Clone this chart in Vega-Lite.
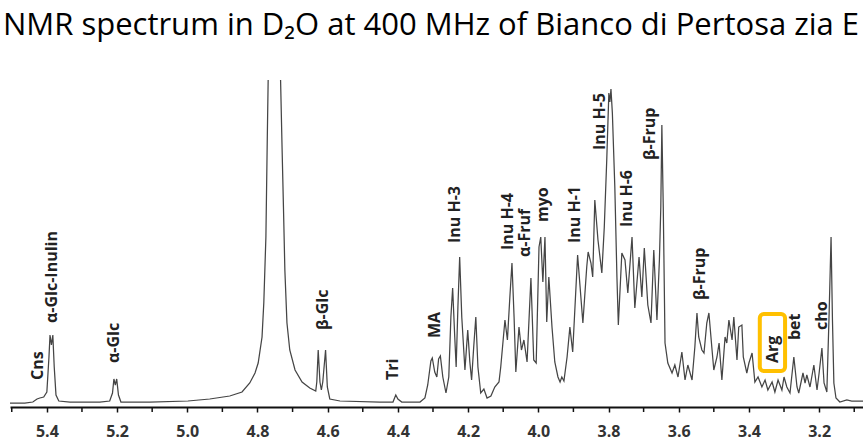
{
  "$schema": "https://vega.github.io/schema/vega-lite/v6.json",
  "width": 853,
  "height": 327,
  "autosize": {"type": "none"},
  "padding": {"left": 10, "top": 80, "right": 0, "bottom": 36},
  "background": "white",
  "title": {
    "text": "NMR spectrum in D₂O at 400 MHz of Bianco di Pertosa zia E",
    "anchor": "start",
    "font": "Open Sans",
    "fontSize": 31,
    "fontWeight": "normal",
    "color": "#000000",
    "dx": -7,
    "offset": 38
  },
  "config": {
    "view": {"stroke": null},
    "axis": {"grid": false}
  },
  "datasets": {
    "spectrum": [
      {"ppm": 5.505, "intensity": 4}, {"ppm": 5.463, "intensity": 4}, {"ppm": 5.44, "intensity": 5},
      {"ppm": 5.428, "intensity": 8}, {"ppm": 5.42, "intensity": 9}, {"ppm": 5.409, "intensity": 10},
      {"ppm": 5.4, "intensity": 15}, {"ppm": 5.394, "intensity": 50}, {"ppm": 5.391, "intensity": 72},
      {"ppm": 5.387, "intensity": 62}, {"ppm": 5.383, "intensity": 72}, {"ppm": 5.379, "intensity": 40},
      {"ppm": 5.374, "intensity": 12}, {"ppm": 5.366, "intensity": 6}, {"ppm": 5.334, "intensity": 5},
      {"ppm": 5.249, "intensity": 5}, {"ppm": 5.221, "intensity": 6}, {"ppm": 5.213, "intensity": 14},
      {"ppm": 5.209, "intensity": 28}, {"ppm": 5.205, "intensity": 22}, {"ppm": 5.201, "intensity": 28},
      {"ppm": 5.196, "intensity": 12}, {"ppm": 5.189, "intensity": 5}, {"ppm": 5.107, "intensity": 5},
      {"ppm": 4.998, "intensity": 6}, {"ppm": 4.936, "intensity": 8}, {"ppm": 4.879, "intensity": 11},
      {"ppm": 4.844, "intensity": 15}, {"ppm": 4.822, "intensity": 24}, {"ppm": 4.807, "intensity": 34},
      {"ppm": 4.798, "intensity": 44}, {"ppm": 4.787, "intensity": 70}, {"ppm": 4.782, "intensity": 104},
      {"ppm": 4.776, "intensity": 170}, {"ppm": 4.772, "intensity": 270}, {"ppm": 4.769, "intensity": 340},
      {"ppm": 4.752, "intensity": 900}, {"ppm": 4.735, "intensity": 340}, {"ppm": 4.73, "intensity": 260},
      {"ppm": 4.726, "intensity": 200}, {"ppm": 4.722, "intensity": 137}, {"ppm": 4.716, "intensity": 84},
      {"ppm": 4.708, "intensity": 57}, {"ppm": 4.693, "intensity": 37}, {"ppm": 4.673, "intensity": 25},
      {"ppm": 4.651, "intensity": 19}, {"ppm": 4.634, "intensity": 16}, {"ppm": 4.631, "intensity": 25},
      {"ppm": 4.627, "intensity": 57}, {"ppm": 4.622, "intensity": 25}, {"ppm": 4.618, "intensity": 17},
      {"ppm": 4.614, "intensity": 25}, {"ppm": 4.606, "intensity": 57}, {"ppm": 4.601, "intensity": 20},
      {"ppm": 4.594, "intensity": 8}, {"ppm": 4.565, "intensity": 6}, {"ppm": 4.451, "intensity": 5},
      {"ppm": 4.414, "intensity": 5}, {"ppm": 4.406, "intensity": 12}, {"ppm": 4.4, "intensity": 8},
      {"ppm": 4.389, "intensity": 5}, {"ppm": 4.337, "intensity": 5}, {"ppm": 4.323, "intensity": 9},
      {"ppm": 4.315, "intensity": 22}, {"ppm": 4.306, "intensity": 46}, {"ppm": 4.302, "intensity": 49},
      {"ppm": 4.295, "intensity": 35}, {"ppm": 4.289, "intensity": 30}, {"ppm": 4.284, "intensity": 48},
      {"ppm": 4.279, "intensity": 51}, {"ppm": 4.272, "intensity": 30}, {"ppm": 4.263, "intensity": 14},
      {"ppm": 4.255, "intensity": 30}, {"ppm": 4.249, "intensity": 90}, {"ppm": 4.244, "intensity": 119},
      {"ppm": 4.238, "intensity": 70}, {"ppm": 4.234, "intensity": 40}, {"ppm": 4.229, "intensity": 100},
      {"ppm": 4.224, "intensity": 150}, {"ppm": 4.218, "intensity": 90}, {"ppm": 4.209, "intensity": 37},
      {"ppm": 4.201, "intensity": 77}, {"ppm": 4.195, "intensity": 45}, {"ppm": 4.19, "intensity": 27},
      {"ppm": 4.184, "intensity": 60}, {"ppm": 4.178, "intensity": 90}, {"ppm": 4.172, "intensity": 40},
      {"ppm": 4.164, "intensity": 14}, {"ppm": 4.155, "intensity": 18}, {"ppm": 4.146, "intensity": 9},
      {"ppm": 4.135, "intensity": 11}, {"ppm": 4.124, "intensity": 20}, {"ppm": 4.112, "intensity": 25},
      {"ppm": 4.107, "intensity": 40}, {"ppm": 4.095, "intensity": 87}, {"ppm": 4.088, "intensity": 67},
      {"ppm": 4.081, "intensity": 110}, {"ppm": 4.075, "intensity": 144}, {"ppm": 4.069, "intensity": 90},
      {"ppm": 4.064, "intensity": 35}, {"ppm": 4.055, "intensity": 80}, {"ppm": 4.048, "intensity": 57},
      {"ppm": 4.041, "intensity": 67}, {"ppm": 4.032, "intensity": 45}, {"ppm": 4.021, "intensity": 129},
      {"ppm": 4.013, "intensity": 47}, {"ppm": 4.006, "intensity": 44}, {"ppm": 3.998, "intensity": 160},
      {"ppm": 3.993, "intensity": 170}, {"ppm": 3.987, "intensity": 125}, {"ppm": 3.981, "intensity": 170},
      {"ppm": 3.976, "intensity": 85}, {"ppm": 3.97, "intensity": 130}, {"ppm": 3.961, "intensity": 80},
      {"ppm": 3.953, "intensity": 45}, {"ppm": 3.944, "intensity": 30}, {"ppm": 3.938, "intensity": 25},
      {"ppm": 3.933, "intensity": 30}, {"ppm": 3.927, "intensity": 26}, {"ppm": 3.918, "intensity": 50},
      {"ppm": 3.91, "intensity": 80}, {"ppm": 3.902, "intensity": 55}, {"ppm": 3.888, "intensity": 152},
      {"ppm": 3.873, "intensity": 84}, {"ppm": 3.862, "intensity": 140}, {"ppm": 3.858, "intensity": 155},
      {"ppm": 3.85, "intensity": 144}, {"ppm": 3.845, "intensity": 130}, {"ppm": 3.839, "intensity": 207},
      {"ppm": 3.83, "intensity": 167}, {"ppm": 3.819, "intensity": 134}, {"ppm": 3.812, "intensity": 180},
      {"ppm": 3.805, "intensity": 247}, {"ppm": 3.799, "intensity": 314}, {"ppm": 3.796, "intensity": 305},
      {"ppm": 3.793, "intensity": 318}, {"ppm": 3.789, "intensity": 294}, {"ppm": 3.782, "intensity": 220},
      {"ppm": 3.776, "intensity": 130}, {"ppm": 3.772, "intensity": 82}, {"ppm": 3.762, "intensity": 154},
      {"ppm": 3.753, "intensity": 147}, {"ppm": 3.745, "intensity": 114}, {"ppm": 3.733, "intensity": 170},
      {"ppm": 3.725, "intensity": 99}, {"ppm": 3.713, "intensity": 150}, {"ppm": 3.705, "intensity": 110},
      {"ppm": 3.698, "intensity": 159}, {"ppm": 3.688, "intensity": 102}, {"ppm": 3.679, "intensity": 84},
      {"ppm": 3.671, "intensity": 157}, {"ppm": 3.662, "intensity": 87}, {"ppm": 3.655, "intensity": 147},
      {"ppm": 3.651, "intensity": 200}, {"ppm": 3.648, "intensity": 282}, {"ppm": 3.644, "intensity": 200},
      {"ppm": 3.639, "intensity": 64}, {"ppm": 3.631, "intensity": 44}, {"ppm": 3.619, "intensity": 34},
      {"ppm": 3.611, "intensity": 42}, {"ppm": 3.602, "intensity": 30}, {"ppm": 3.591, "intensity": 55},
      {"ppm": 3.582, "intensity": 27}, {"ppm": 3.574, "intensity": 42}, {"ppm": 3.562, "intensity": 27},
      {"ppm": 3.554, "intensity": 60}, {"ppm": 3.548, "intensity": 94}, {"ppm": 3.543, "intensity": 70},
      {"ppm": 3.534, "intensity": 57}, {"ppm": 3.528, "intensity": 54}, {"ppm": 3.52, "intensity": 84},
      {"ppm": 3.514, "intensity": 94}, {"ppm": 3.505, "intensity": 57}, {"ppm": 3.5, "intensity": 37},
      {"ppm": 3.491, "intensity": 50}, {"ppm": 3.485, "intensity": 64}, {"ppm": 3.477, "intensity": 27},
      {"ppm": 3.468, "intensity": 70}, {"ppm": 3.463, "intensity": 64}, {"ppm": 3.457, "intensity": 87},
      {"ppm": 3.448, "intensity": 67}, {"ppm": 3.443, "intensity": 90}, {"ppm": 3.434, "intensity": 47},
      {"ppm": 3.429, "intensity": 80}, {"ppm": 3.42, "intensity": 82}, {"ppm": 3.416, "intensity": 50},
      {"ppm": 3.406, "intensity": 34}, {"ppm": 3.4, "intensity": 44}, {"ppm": 3.391, "intensity": 54},
      {"ppm": 3.383, "intensity": 25}, {"ppm": 3.374, "intensity": 30}, {"ppm": 3.363, "intensity": 20},
      {"ppm": 3.354, "intensity": 27}, {"ppm": 3.346, "intensity": 17}, {"ppm": 3.334, "intensity": 25},
      {"ppm": 3.326, "intensity": 15}, {"ppm": 3.317, "intensity": 27}, {"ppm": 3.306, "intensity": 17},
      {"ppm": 3.3, "intensity": 30}, {"ppm": 3.292, "intensity": 20}, {"ppm": 3.283, "intensity": 14},
      {"ppm": 3.272, "intensity": 50}, {"ppm": 3.263, "intensity": 20}, {"ppm": 3.258, "intensity": 14},
      {"ppm": 3.246, "intensity": 34}, {"ppm": 3.24, "intensity": 24}, {"ppm": 3.235, "intensity": 32},
      {"ppm": 3.226, "intensity": 20}, {"ppm": 3.215, "intensity": 42}, {"ppm": 3.206, "intensity": 17},
      {"ppm": 3.2, "intensity": 34}, {"ppm": 3.192, "intensity": 59}, {"ppm": 3.186, "intensity": 24},
      {"ppm": 3.178, "intensity": 15}, {"ppm": 3.172, "intensity": 87}, {"ppm": 3.166, "intensity": 170},
      {"ppm": 3.162, "intensity": 87}, {"ppm": 3.158, "intensity": 24}, {"ppm": 3.152, "intensity": 9},
      {"ppm": 3.141, "intensity": 5}, {"ppm": 3.121, "intensity": 7}, {"ppm": 3.107, "intensity": 6},
      {"ppm": 3.075, "intensity": 6}
    ],
    "peaks": [
      {"ppm": 5.426, "intensity": 27, "label": "Cns"},
      {"ppm": 5.386, "intensity": 84, "label": "α-Glc-Inulin"},
      {"ppm": 5.209, "intensity": 44, "label": "α-Glc"},
      {"ppm": 4.614, "intensity": 77, "label": "β-Glc"},
      {"ppm": 4.414, "intensity": 27, "label": "Tri"},
      {"ppm": 4.295, "intensity": 69, "label": "MA"},
      {"ppm": 4.238, "intensity": 164, "label": "Inu H-3"},
      {"ppm": 4.087, "intensity": 157, "label": "Inu H-4"},
      {"ppm": 4.038, "intensity": 150, "label": "α-Fruf"},
      {"ppm": 3.987, "intensity": 185, "label": "myo"},
      {"ppm": 3.896, "intensity": 164, "label": "Inu H-1"},
      {"ppm": 3.825, "intensity": 257, "label": "Inu H-5"},
      {"ppm": 3.748, "intensity": 180, "label": "Inu H-6"},
      {"ppm": 3.682, "intensity": 247, "label": "β-Frup"},
      {"ppm": 3.54, "intensity": 107, "label": "β-Frup"},
      {"ppm": 3.332, "intensity": 44, "label": "Arg"},
      {"ppm": 3.269, "intensity": 67, "label": "bet"},
      {"ppm": 3.192, "intensity": 77, "label": "cho"}
    ],
    "minorTicks": [
      {"ppm": 5.5}, {"ppm": 5.3}, {"ppm": 5.1}, {"ppm": 4.9}, {"ppm": 4.7}, {"ppm": 4.5}, {"ppm": 4.3},
      {"ppm": 4.1}, {"ppm": 3.9}, {"ppm": 3.7}, {"ppm": 3.5}, {"ppm": 3.3}, {"ppm": 3.1}
    ],
    "highlight": [
      {"from": 3.369, "to": 3.297, "low": 36, "high": 93}
    ]
  },
  "layer": [
    {
      "data": {"name": "spectrum"},
      "mark": {"type": "line", "clip": true, "color": "#454545", "strokeWidth": 1.25},
      "encoding": {
        "x": {
          "field": "ppm",
          "type": "quantitative",
          "scale": {"domain": [3.075, 5.505], "reverse": true, "nice": false, "zero": false},
          "axis": {
            "title": null,
            "values": [5.4, 5.2, 5.0, 4.8, 4.6, 4.4, 4.2, 4.0, 3.8, 3.6, 3.4, 3.2],
            "format": ".1f",
            "domainColor": "#111111",
            "domainWidth": 2,
            "tickColor": "#111111",
            "tickWidth": 1.5,
            "tickSize": 5,
            "labelFont": "Open Sans",
            "labelFontSize": 16,
            "labelFontWeight": "bold",
            "labelColor": "#333333",
            "labelPadding": 11,
            "labelFlush": false,
            "labelOverlap": false
          }
        },
        "y": {
          "field": "intensity",
          "type": "quantitative",
          "scale": {"domain": [0, 327], "nice": false},
          "axis": null
        }
      }
    },
    {
      "data": {"name": "minorTicks"},
      "mark": {"type": "rule", "color": "#111111", "strokeWidth": 1.5},
      "encoding": {
        "x": {"field": "ppm", "type": "quantitative"},
        "y": {"datum": 0},
        "y2": {"datum": -5}
      }
    },
    {
      "data": {"name": "peaks"},
      "mark": {"type": "text", "angle": 270, "align": "left", "baseline": "middle", "font": "Open Sans", "fontSize": 16, "fontWeight": "bold", "color": "#222222"},
      "encoding": {
        "x": {"field": "ppm", "type": "quantitative"},
        "y": {"field": "intensity", "type": "quantitative"},
        "text": {"field": "label"}
      }
    },
    {
      "data": {"name": "highlight"},
      "mark": {"type": "rect", "fill": null, "stroke": "#FFC000", "strokeWidth": 4, "cornerRadius": 4},
      "encoding": {
        "x": {"field": "from", "type": "quantitative"},
        "x2": {"field": "to"},
        "y": {"field": "low", "type": "quantitative"},
        "y2": {"field": "high"}
      }
    }
  ]
}
